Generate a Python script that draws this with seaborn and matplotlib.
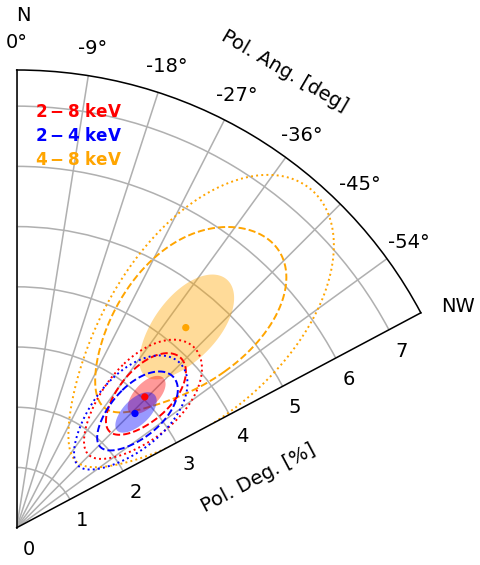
import numpy as np
import matplotlib
matplotlib.use('Agg')
import matplotlib.pyplot as plt
import seaborn as sns

DPI = 140
W, H = 480, 565

# ---- data ----
bands = ['2-8 keV', '2-4 keV', '4-8 keV']
band_labels = [r'$\mathbf{2-8}$ keV', r'$\mathbf{2-4}$ keV', r'$\mathbf{4-8}$ keV']
colors = ['red', 'blue', 'orange']
pol_deg = [3.04, 2.73, 4.35]      # %
pol_ang = [-44.4, -46.0, -40.2]   # deg

# inner (filled) confidence regions: circles in the Q-U plane
fill_pd = [3.08, 2.75, 4.35]
fill_pa = [-44.4, -46.0, -40.2]
fill_rad = [0.40, 0.43, 1.05]
# 2-8 and 2-4 keV outer contours: circles in the Q-U plane
dash_pd = [3.07, 2.77]
dash_pa = [-44.0, -46.0]
dash_rad = [0.85, 0.84]
dot_pd = [2.95, 2.65]
dot_pa = [-44.5, -44.7]
dot_rad = [1.25, 1.20]
# 4-8 keV outer contours: outline points (PA deg, PD %)
orange_dash_pa = [-34.8, -46.9, -53.4, -52.8, -47.6, -39.9, -25.3, -27.3]
orange_dash_pd = [6.11, 6.02, 5.03, 4.24, 3.22, 2.32, 3.63, 5.18]
orange_dot_pa = [-32.0, -38.8, -44.3, -49.4, -53.8, -59.4, -59.6, -53.8, -38.2, -25.4, -24.1, -25.5]
orange_dot_pd = [7.00, 7.33, 7.21, 6.93, 6.40, 5.14, 3.91, 1.71, 1.43, 1.67, 3.65, 5.53]

theta_ticks = [0, -9, -18, -27, -36, -45, -54]
theta_labels = ['0°', '-9°', '-18°', '-27°', '-36°', '-45°', '-54°']
r_ticks = [0, 1, 2, 3, 4, 5, 6, 7]
r_max = 7.6
theta_min = -62


def qu_circle(pd_c, pa_c, rad, n=400):
    t = np.linspace(0, 2 * np.pi, n)
    q = pd_c * np.cos(np.deg2rad(2 * pa_c)) + rad * np.cos(t)
    u = pd_c * np.sin(np.deg2rad(2 * pa_c)) + rad * np.sin(t)
    return 0.5 * np.arctan2(u, q), np.hypot(q, u)


def qu_outline(pa_pts, pd_pts, order=2, n=400):
    """Smooth closed outline (low-order Fourier fit in the Q-U plane)."""
    pa = np.deg2rad(np.asarray(pa_pts))
    pdv = np.asarray(pd_pts)
    q, u = pdv * np.cos(2 * pa), pdv * np.sin(2 * pa)
    qc, uc = q.mean(), u.mean()
    phi = np.arctan2(u - uc, q - qc)
    d = np.hypot(q - qc, u - uc)

    def basis(a):
        cols = [np.ones_like(a)]
        for k in range(1, order + 1):
            cols += [np.cos(k * a), np.sin(k * a)]
        return np.column_stack(cols)

    coef = np.linalg.lstsq(basis(phi), d, rcond=None)[0]
    t = np.linspace(-np.pi, np.pi, n)
    dd = basis(t) @ coef
    qq, uu = qc + dd * np.cos(t), uc + dd * np.sin(t)
    return 0.5 * np.arctan2(uu, qq), np.hypot(qq, uu)


fig = plt.figure(figsize=(W / DPI, H / DPI), dpi=DPI)
R_PX = 457.7
OX, OY = 16.7, 527.7
wedge_w = R_PX * np.sin(np.deg2rad(-theta_min))
left_px = OX - (R_PX - wedge_w) / 2
ax = fig.add_axes([left_px / W, (H - OY) / H, R_PX / W, R_PX / H], projection='polar')
ax.set_theta_zero_location('N')
ax.set_theta_direction(1)
ax.set_thetamin(theta_min)
ax.set_thetamax(0)


def draw_line(th, rr, c, ls):
    sns.lineplot(x=th, y=rr, sort=False, estimator=None, color=c,
                 linestyle=ls, linewidth=1.0, ax=ax, zorder=2)


for i in [2, 0, 1]:
    c = colors[i]
    th, rr = qu_circle(fill_pd[i], fill_pa[i], fill_rad[i])
    ax.fill(th, rr, color=c, alpha=0.4, lw=0, zorder=2)
    if i == 2:
        draw_line(*qu_outline(orange_dash_pa, orange_dash_pd), c, '--')
        draw_line(*qu_outline(orange_dot_pa, orange_dot_pd), c, ':')
    else:
        draw_line(*qu_circle(dash_pd[i], dash_pa[i], dash_rad[i]), c, '--')
        draw_line(*qu_circle(dot_pd[i], dot_pa[i], dot_rad[i]), c, ':')

sns.scatterplot(x=np.deg2rad(pol_ang), y=pol_deg, hue=bands, palette=colors,
                s=14, linewidth=0, legend=False, zorder=5, ax=ax)

ax.set_rlim(0, r_max)
ax.set_thetagrids(theta_ticks, theta_labels)
ax.set_rgrids(r_ticks, [str(v) for v in r_ticks])
ax.set_xlabel('')
ax.set_ylabel('')

ax.text(np.deg2rad(-30.4), 8.80, 'Pol. Ang. [deg]', rotation=-30.4,
        ha='center', va='center', rotation_mode='anchor', clip_on=False)
ax.text(np.deg2rad(-78.4), 4.10, 'Pol. Deg. [%]', rotation=27.9,
        ha='center', va='center', rotation_mode='anchor', clip_on=False)

fig.text(16.5 / W, 1 - 20.7 / H, 'N', ha='left', va='baseline')
fig.text(441.5 / W, 1 - 311.7 / H, 'NW', ha='left', va='baseline')

for lab, c, yb in zip(band_labels, colors, [117, 141, 165]):
    fig.text(34.8 / W, 1 - yb / H, lab, color=c, fontweight='bold',
             fontsize=8.6, ha='left', va='baseline')

fig.savefig('out.png', dpi=DPI)
